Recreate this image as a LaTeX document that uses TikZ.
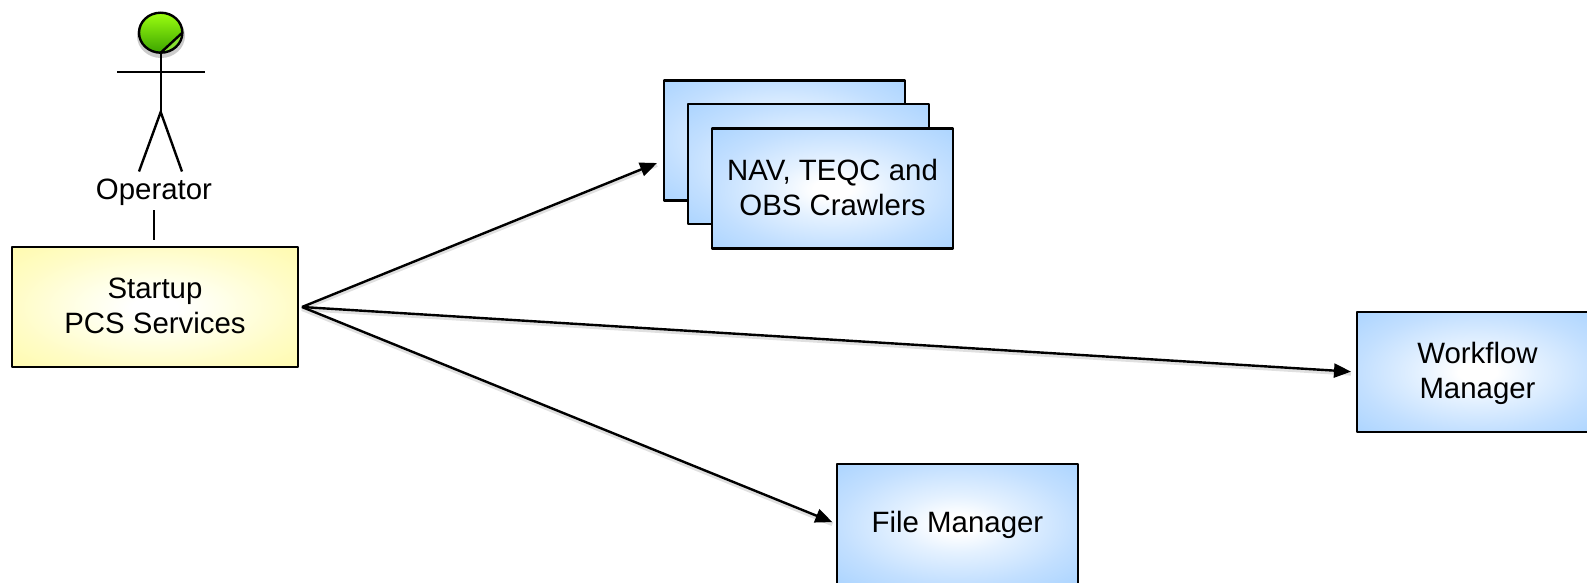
\documentclass[tikz,border=0pt]{standalone}
\usepackage{fontspec}
\setmainfont{Liberation Sans}
\usetikzlibrary{arrows.meta,calc}
\definecolor{boxedge}{HTML}{ADD5FF}
\definecolor{boxside}{HTML}{C2DFFF}
\definecolor{boxmid}{HTML}{E4F1FF}
\definecolor{yeledge}{HTML}{FFFBB0}
\definecolor{yelside}{HTML}{FFFCC6}
\definecolor{yelmid}{HTML}{FFFFEA}
\definecolor{headtop}{HTML}{9CFF10}
\definecolor{headbot}{HTML}{3CA400}
\definecolor{headlow}{HTML}{86DE30}
\pgfdeclareradialshading{bluebox}{\pgfpoint{0bp}{0bp}}{color(0bp)=(white); color(4bp)=(white); color(12bp)=(boxmid); color(25bp)=(boxside); color(35bp)=(boxedge); color(50bp)=(boxedge)}
\pgfdeclareradialshading{yellowbox}{\pgfpoint{0bp}{0bp}}{color(0bp)=(white); color(4bp)=(white); color(12bp)=(yelmid); color(25bp)=(yelside); color(35bp)=(yeledge); color(50bp)=(yeledge)}
\newcommand\lineslower[2]{\vbox{\kern#1\hbox{\begin{tabular}{@{}c@{}}#2\end{tabular}}}}
\tikzset{
  x=1pt,y=-1pt,
  basebox/.style={draw=black,line width=2.5pt,line join=round,minimum width=241pt,minimum height=120pt,inner sep=0pt,outer sep=0pt,font=\fontsize{29.4}{35}\selectfont,text=black},
  bluenode/.style={basebox,shading=bluebox},
  yellownode/.style={basebox,shading=yellowbox,minimum width=286pt},
  conn/.style={draw=black,line width=2.4pt,-{Triangle[length=17pt,width=14pt]},preaction={draw=black!12,line width=4pt,-,transform canvas={yshift=-2pt}}},
  figure/.style={draw=black,line width=2.4pt},
  plainlabel/.style={font=\fontsize{29.4}{35}\selectfont,inner sep=0pt,outer sep=0pt,text=black,minimum height=36pt}
}
\begin{document}
\begin{tikzpicture}
\path[use as bounding box,clip] (0,0) rectangle (1587,582);
% actor
\fill[black!20] (161,36) ellipse [x radius=24,y radius=22];
\shade[top color=headtop,bottom color=headbot] (160.7,32.7) ellipse [x radius=21.7,y radius=20];
\begin{scope}
  \clip (160.7,32.7) ellipse [x radius=21.7,y radius=20];
  \fill[headlow] (160.7,52.7) -- (182.4,32.7) -- (190,60) -- cycle;
\end{scope}
\draw[figure] (160.7,32.7) ellipse [x radius=21.7,y radius=20];
\draw[figure] (160.7,52.7) -- (182,33);
\draw[figure] (160.7,52.7) -- (160.7,112);
\draw[figure] (117,72) -- (204.5,72);
\draw[figure] (139,171.5) -- (160.7,112) -- (182,171.5);
\node[plainlabel] (operator) at (154,192) {Operator};
% boxes
\node[yellownode] (startup) at (155,307) {\lineslower{4pt}{Startup\\PCS Services}};
\node[bluenode] (crawlA) at (784.5,140.5) {};
\node[bluenode] (crawlB) at (808.5,164) {};
\node[bluenode] (crawlC) at (832.5,188.5) {\lineslower{4pt}{NAV, TEQC and\\OBS Crawlers}};
\node[bluenode] (workflow) at (1477.5,372) {\lineslower{4pt}{Workflow\\Manager}};
\node[bluenode] (filemgr) at (957.5,524) {\lineslower{2pt}{File Manager}};
% connectors
\coordinate (crawltip) at ($(crawlA.west)+(-7,22.5)$);
\draw[figure] (operator.south) -- ([yshift=7pt]operator.south |- startup.north);
\draw[conn] ([xshift=4pt]startup.east) -- (crawltip);
\draw[conn,shorten >=6pt] ([xshift=4pt]startup.east) -- (workflow.west);
\draw[conn,shorten >=5pt] ([xshift=4pt]startup.east) -- (filemgr.west);
\end{tikzpicture}
\end{document}
